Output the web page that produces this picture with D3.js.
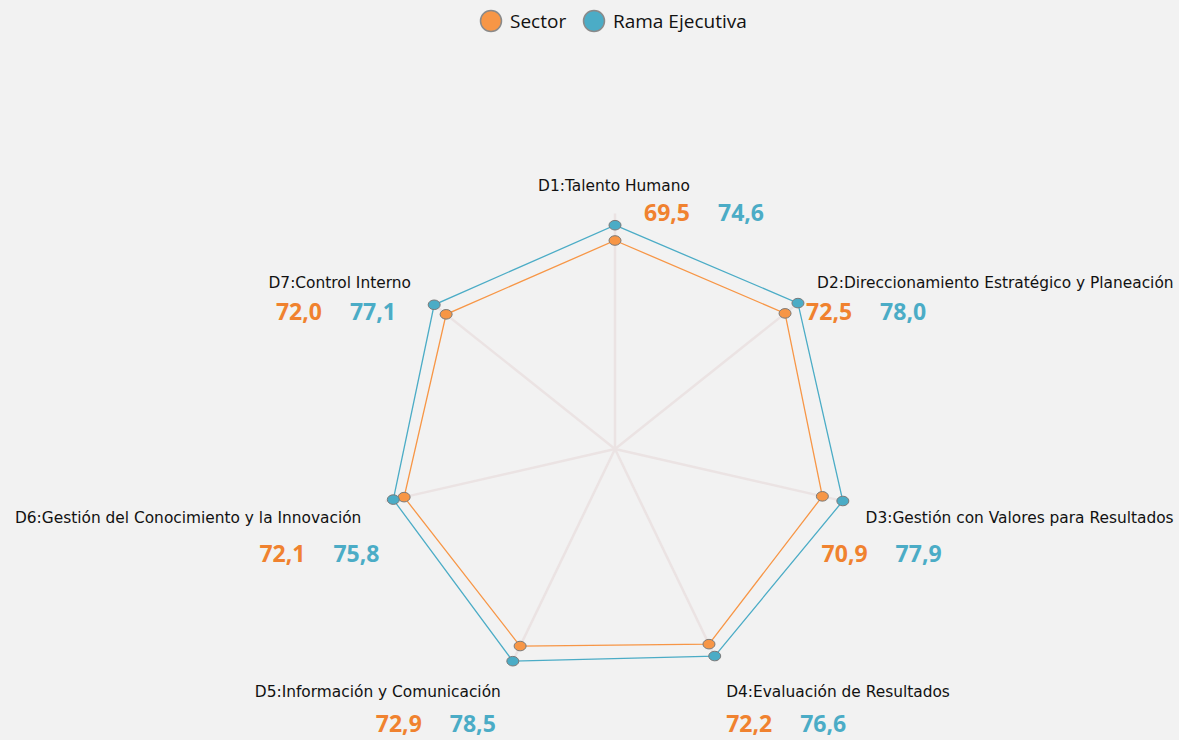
<!DOCTYPE html>
<html>
<head>
<meta charset="utf-8">
<script src="https://cdnjs.cloudflare.com/ajax/libs/d3/7.8.5/d3.min.js"></script>
<style>
  body { margin: 0; background: #f2f2f2; }
  svg { display: block; }
  .label { font-family: "DejaVu Sans", sans-serif; font-size: 15.4px; fill: #111; }
  .value { font-family: "Open Sans", sans-serif; font-size: 23px; font-weight: bold; }
  .legend text { font-family: "Open Sans", sans-serif; font-size: 19px; fill: #111; }
</style>
</head>
<body>
<svg id="chart" width="1179" height="740"></svg>
<script>
// data
var dimensions = ["D1:Talento Humano", "D2:Direccionamiento Estratégico y Planeación",
    "D3:Gestión con Valores para Resultados", "D4:Evaluación de Resultados",
    "D5:Información y Comunicación", "D6:Gestión del Conocimiento y la Innovación",
    "D7:Control Interno"];
var sector = [69.5, 72.5, 70.9, 72.2, 72.9, 72.1, 72.0];
var ramaEjecutiva = [74.6, 78.0, 77.9, 76.6, 78.5, 75.8, 77.1];
var seriesNames = ["Sector", "Rama Ejecutiva"];

// label placement relative to the end of each spoke
var labelLayout = [
    {dx: -1, dy: -23, anchor: "middle", vx: 29, vy: 7},
    {dx: 18, dy: -14, anchor: "start", vx: 7, vy: 18},
    {dx: 21, dy: 22, anchor: "start", vx: -23, vy: 61},
    {dx: 9, dy: 36, anchor: "start", vx: 9, vy: 71},
    {dx: -12, dy: 36, anchor: "end", vx: -137, vy: 71},
    {dx: -24, dy: 22, anchor: "end", vx: -126, vy: 61},
    {dx: -20, dy: -14, anchor: "end", vx: -155, vy: 18}
];

var colors = {line: ["#f79646", "#4bacc6"], text: ["#f0822f", "#4bacc6"]};

var svg = d3.select("#chart");
var cx = 615, cy = 449;

var maxVal = d3.max(sector.concat(ramaEjecutiva));
var r = d3.scaleLinear().domain([0, maxVal]).range([0, 235.5]);
var angle = d3.scaleLinear().domain([0, dimensions.length]).range([0, 2 * Math.PI]);

function pt(i, v) {
    var a = angle(i);
    return [cx + r(v) * Math.sin(a), cy - r(v) * Math.cos(a)];
}

var g = svg.append("g");

// spokes
g.selectAll(".spoke")
    .data(dimensions)
    .enter().append("line")
    .attr("class", "spoke")
    .attr("x1", cx).attr("y1", cy)
    .attr("x2", function(d, i) { return pt(i, maxVal)[0]; })
    .attr("y2", function(d, i) { return pt(i, maxVal)[1]; })
    .attr("stroke", "#ebe3e3")
    .attr("stroke-width", 2.5);

var series = [sector, ramaEjecutiva];
var line = d3.line().curve(d3.curveLinearClosed);

series.forEach(function(vals, s) {
    g.append("path")
        .datum(vals.map(function(v, i) { return pt(i, v); }))
        .attr("d", line)
        .attr("fill", "none")
        .attr("stroke", colors.line[s])
        .attr("stroke-width", 1.3);
});

series.forEach(function(vals, s) {
    g.selectAll(".pt" + s)
        .data(vals)
        .enter().append("ellipse")
        .attr("class", "pt" + s)
        .attr("cx", function(d, i) { return pt(i, d)[0]; })
        .attr("cy", function(d, i) { return pt(i, d)[1]; })
        .attr("rx", 6)
        .attr("ry", 4.8)
        .attr("fill", colors.line[s])
        .attr("stroke", "#7a7a7a")
        .attr("stroke-width", 1);
});

// axis labels and values
var fmt = function(v) { return d3.format(".1f")(v).replace(".", ","); };

dimensions.forEach(function(name, i) {
    var end = pt(i, maxVal), L = labelLayout[i];
    g.append("text")
        .attr("class", "label")
        .attr("x", end[0] + L.dx)
        .attr("y", end[1] + L.dy)
        .attr("text-anchor", L.anchor)
        .text(name);
    series.forEach(function(vals, s) {
        g.append("text")
            .attr("class", "value")
            .attr("x", end[0] + L.vx + s * 74)
            .attr("y", end[1] + L.vy)
            .attr("fill", colors.text[s])
            .text(fmt(vals[i]));
    });
});

// legend
var legend = svg.append("g").attr("class", "legend");
var lx = [491, 594];
seriesNames.forEach(function(name, s) {
    legend.append("circle")
        .attr("cx", lx[s]).attr("cy", 21).attr("r", 10.5)
        .attr("fill", colors.line[s])
        .attr("stroke", "#8a8a8a")
        .attr("stroke-width", 1.5);
    legend.append("text")
        .attr("x", lx[s] + 19).attr("y", 28)
        .text(name);
});
</script>
</body>
</html>
